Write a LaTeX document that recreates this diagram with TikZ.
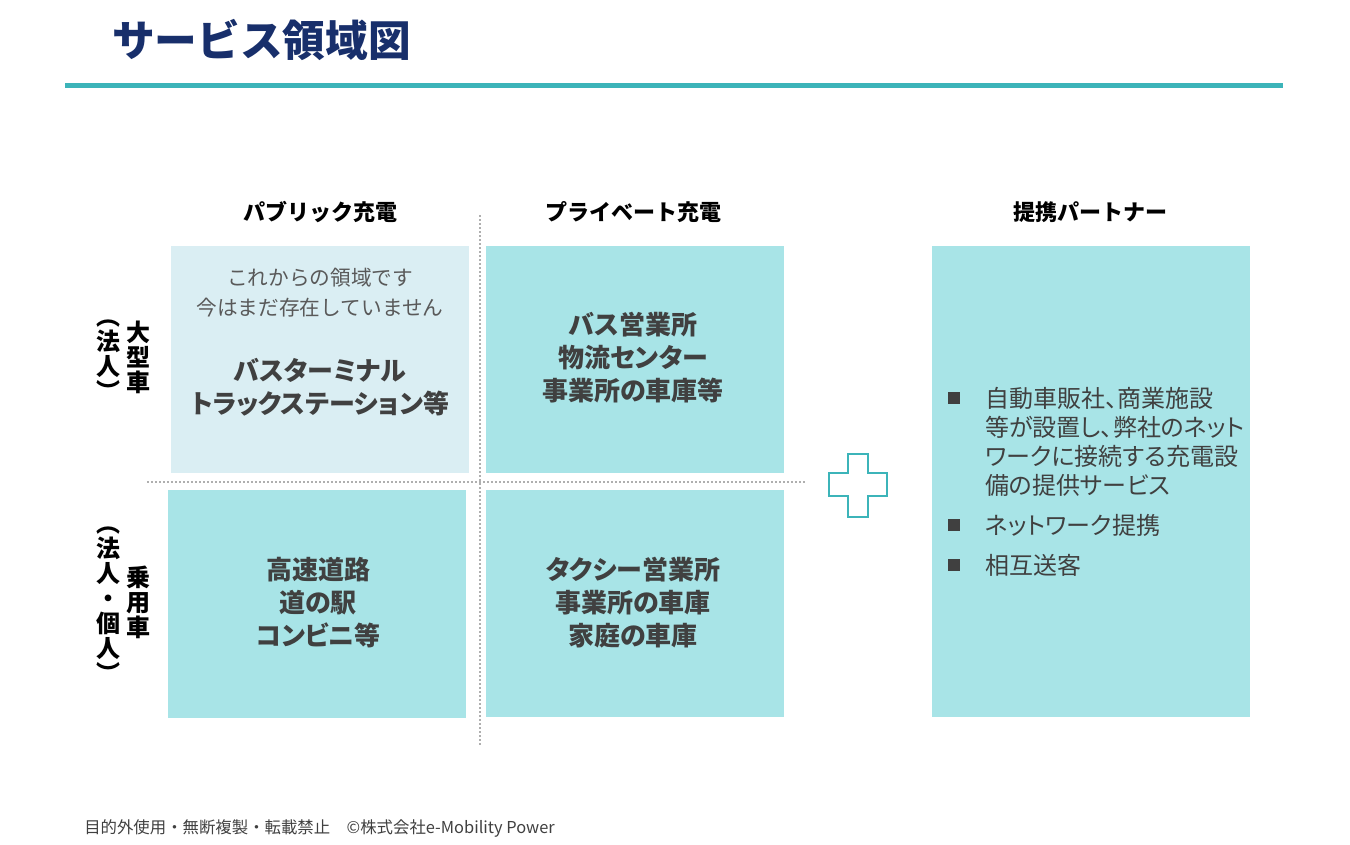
\documentclass[tikz,border=0pt]{standalone}
\usepackage{fontspec}
\setmainfont{Noto Sans CJK JP}
\newfontfamily\propjp{Noto Sans CJK JP}[RawFeature={+palt}]
\usetikzlibrary{positioning}

\definecolor{titlenavy}{RGB}{24,47,107}
\definecolor{rulecol}{RGB}{60,180,185}
\definecolor{lightbox}{RGB}{218,238,243}
\definecolor{tealbox}{RGB}{168,228,231}
\definecolor{darktext}{RGB}{64,64,64}
\definecolor{graytext}{RGB}{89,89,89}
\definecolor{dotgray}{RGB}{175,175,175}

\tikzset{
  title/.style={font=\fontsize{32pt}{36pt}\selectfont\bfseries, text=titlenavy, inner sep=0pt},
  head/.style={font=\fontsize{16.5pt}{20pt}\selectfont\bfseries, text=black},
  boxtext/.style={font=\propjp\fontsize{19.5pt}{24.75pt}\selectfont\bfseries, text=darktext, align=center},
  note/.style={font=\fontsize{15.5pt}{22.5pt}\selectfont, text=graytext, align=center},
  bullettext/.style={font=\propjp\fontsize{18pt}{21.75pt}\selectfont, text=darktext, align=left, inner sep=0pt},
  sqbullet/.style={fill=darktext, minimum size=9pt, inner sep=0pt},
  sidelabel/.style={font=\fontsize{18pt}{18.75pt}\selectfont\bfseries, text=black, align=center, inner sep=0pt},
  footer/.style={font=\fontsize{12.3pt}{15pt}\selectfont, text=darktext, inner sep=0pt},
  divider/.style={dotgray, line width=1.5pt, dash pattern=on 1.5pt off 1.5pt},
}

\begin{document}
\begin{tikzpicture}[x=0.75pt,y=-0.75pt]
\useasboundingbox (0,0) rectangle (1350,844);

% タイトル
\node[title, anchor=west] (title) at (112,40) {サービス領域図};
\draw[rulecol, line width=3.75pt] (65,85) -- (1283,85);

% 見出し
\node[head] (hpub) at (320,212) {パブリック充電};
\node[head] (hpri) at (633,212) {プライベート充電};
\node[head] (hpar) at (1090,212) {提携パートナー};

% 領域
\fill[lightbox] (171,246) rectangle (469,473);
\fill[tealbox] (486,246) rectangle (784,473);
\fill[tealbox] (168,490) rectangle (466,718);
\fill[tealbox] (486,490) rectangle (784,717);
\fill[tealbox] (932,246) rectangle (1250,717);

% 区切り線
\draw[divider] (480,215) -- (480,745);
\draw[divider] (147,482) -- (806,482);

% プラス
\draw[rulecol, line width=1.9pt, line join=miter]
  (848,454) -- (868,454) -- (868,473) -- (887,473) -- (887,496) -- (868,496)
  -- (868,517) -- (848,517) -- (848,496) -- (829,496) -- (829,473) -- (848,473) -- cycle;

% 左の区分
\node[sidelabel] (big) at (138,357) {大\\型\\車};
\node[sidelabel] (bigp) at (108,360) {︵\\法\\人\\︶};
\node[sidelabel] (car) at (138,602) {乗\\用\\車};
\node[sidelabel] (carp) at (108,605) {︵\\法\\人\\・\\個\\人\\︶};

% 各領域のテキスト
\node[note] (tlnote) at (320,293) {これからの領域です\\今はまだ存在していません};
\node[boxtext] (tlmain) at (320,387) {バスターミナル\\トラックステーション等};
\node[boxtext] (trmain) at (633,358) {バス営業所\\物流センター\\事業所の車庫等};
\node[boxtext] (blmain) at (318,603) {高速道路\\道の駅\\コンビニ等};
\node[boxtext] (brmain) at (633,603) {タクシー営業所\\事業所の車庫\\家庭の車庫};

% 提携パートナー
\node[sqbullet] (b1) at (954,398) {};
\node[bullettext, anchor=west] (t1) at (985,442) {自動車販社、商業施設\\等が設置し、弊社のネット\\ワークに接続する充電設\\備の提供サービス};
\node[sqbullet] (b2) at (954,525) {};
\node[bullettext, anchor=west] (t2) at (985,525) {ネットワーク提携};
\node[sqbullet] (b3) at (954,565) {};
\node[bullettext, anchor=west] (t3) at (985,565) {相互送客};

% フッター
\node[footer, anchor=west] (foot) at (84,828) {目的外使用・無断複製・転載禁止　©株式会社e-Mobility Power};
\end{tikzpicture}
\end{document}
